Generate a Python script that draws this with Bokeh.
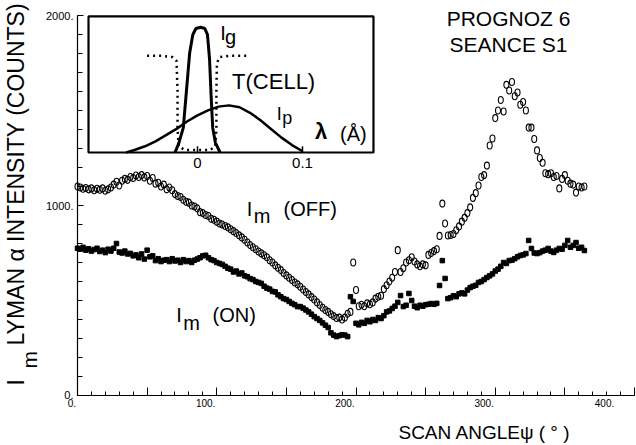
import math
from bokeh.plotting import figure
from bokeh.models import Range1d, FixedTicker, Label, ColumnDataSource, LinearAxis
from bokeh.embed import file_html
from bokeh.resources import INLINE

# ---------------- data ----------------
scan_angle = list(range(0, 366, 2))

intensity_off = [
    1100, 1095, 1088, 1092, 1085, 1090, 1080, 1088, 1083, 1090,   # 0-18
    1078, 1085, 1095, 1110, 1125, 1105, 1130, 1140, 1135, 1150,   # 20-38
    1145, 1158, 1150, 1160, 1148, 1155, 1130, 1145, 1115, 1120,   # 40-58
    1100, 1110, 1085, 1095, 1080, 1060, 1050, 1045, 1030, 1020,   # 60-78
    1015, 1000, 995, 985, 965, 960, 950, 945, 930, 925,           # 80-98
    915, 905, 900, 892, 885, 875, 865, 855, 843, 832,             # 100-118
    820, 805, 792, 780, 770, 758, 748, 738, 728, 712,             # 120-138
    700, 685, 672, 660, 645, 632, 620, 608, 595, 585,             # 140-158
    572, 558, 545, 532, 518, 505, 490, 476, 462, 450,             # 160-178
    440, 428, 418, 408, 410, 400, 410, 430, 440, 700,             # 180-198
    555, 470, 478, 470, 485, 480, 490, 510, 520, 525,             # 200-218
    560, 580, 600, 620, 650, 765, 650, 670, 700, 712,             # 220-238
    728, 705, 690, 680, 690, 685, 740, 750, 760, 770,             # 240-258
    840, 1010, 905, 842, 845, 850, 870, 890, 915, 935,            # 260-278
    960, 990, 1040, 1065, 1105, 1150, 1160, 1210, 1316, 1353,     # 280-298
    1460, 1500, 1555, 1495, 1635, 1605, 1650, 1575, 1595, 1530,   # 300-318
    1545, 1500, 1410, 1410, 1350, 1290, 1250, 1225, 1170, 1165,   # 320-338
    1170, 1150, 1155, 1090, 1140, 1160, 1130, 1115, 1110, 1068,   # 340-358
    1100, 1095, 1100,                                             # 360-364
]

intensity_on = [
    775, 770, 780, 765, 772, 760, 768, 775, 758, 765,   # 0-18
    752, 770, 760, 775, 800, 755, 750, 760, 745, 748,   # 20-38
    735, 740, 725, 745, 718, 765, 730, 735, 710, 720,   # 40-58
    705, 712, 715, 705, 720, 708, 712, 700, 715, 705,   # 60-78
    710, 700, 712, 718, 725, 735, 738, 725, 715, 710,   # 80-98
    700, 695, 690, 680, 670, 665, 650, 655, 640, 645,   # 100-118
    630, 625, 615, 610, 600, 595, 590, 575, 565, 560,   # 120-138
    548, 545, 530, 520, 510, 505, 495, 485, 478, 468,   # 140-158
    468, 460, 450, 440, 428, 415, 405, 395, 382, 370,   # 160-178
    358, 330, 318, 310, 315, 320, 318, 310, 520, 495,   # 180-198
    380, 372, 385, 380, 395, 388, 400, 395, 410, 405,   # 200-218
    420, 440, 445, 458, 470, 490, 526, 468, 475, 537,   # 220-238
    500, 470, 462, 475, 470, 478, 480, 484, 480, 485,   # 240-258
    579, 710, 616, 510, 515, 525, 520, 535, 540, 535,   # 260-278
    555, 568, 575, 580, 595, 600, 610, 621, 630, 640,   # 280-298
    655, 665, 680, 700, 695, 710, 712, 720, 730, 737,   # 300-318
    740, 747, 816, 774, 750, 747, 752, 760, 765, 774,   # 320-338
    760, 753, 765, 774, 770, 790, 816, 780, 790, 805,   # 340-358
    775, 780, 763,                                      # 360-364
]

# inset: spectral profiles versus wavelength offset (Angstrom), peak of I_g = 1
ig_lambda = [-0.0215, -0.018, -0.0135, -0.0105, -0.0075, -0.0045, -0.0015, 0.003,
             0.007, 0.0095, 0.0115, 0.013, 0.0145, 0.017, 0.0215]
ig_level = [0.0, 0.07, 0.2, 0.5, 0.8, 0.95, 1.0, 1.01, 1.0, 0.95, 0.75, 0.45, 0.2, 0.08, 0.0]

tcell_lambda = [-0.048, -0.035, -0.024, -0.020, -0.019, -0.019, -0.018, -0.012,
                0.012, 0.017, 0.018, 0.018, 0.0185, 0.021, 0.030, 0.048]
tcell_level = [0.78, 0.78, 0.77, 0.74, 0.5, 0.2, 0.05, 0.02,
               0.02, 0.05, 0.2, 0.5, 0.72, 0.77, 0.78, 0.78]

ip_lambda = [-0.068, -0.06, -0.05, -0.04, -0.03, -0.02, -0.01, 0.0, 0.01,
             0.02, 0.03, 0.04, 0.05, 0.06, 0.07, 0.08, 0.09, 0.10]
ip_level = [0.0, 0.02, 0.05, 0.09, 0.14, 0.19, 0.25, 0.30, 0.34,
            0.37, 0.38, 0.365, 0.32, 0.26, 0.19, 0.12, 0.06, 0.01]

inset_ticks = [0.0, 0.1]
inset_tick_labels = ["0", "0.1"]

NB = "\u00a0"
x_major = [0, 50, 100, 150, 200, 250, 300, 350, 400]
x_labels = {0: "0." + NB * 4, 50: "", 100: "100." + NB * 8, 150: "", 200: "200." + NB * 8,
            250: "", 300: "300." + NB * 8, 350: "", 400: "400." + NB * 8}
y_major = [0, 1000, 2000]
y_labels = {0: "0.", 1000: "1000.", 2000: "2000."}

FONT = "Liberation Sans"

# ---------------- figure (frame = whole canvas, axes fixed at x=0 / y=0) ----------------
p = figure(width=636, height=445, output_backend="svg", toolbar_location=None,
           x_range=Range1d(-55.296, 401.436), y_range=Range1d(-263.16, 2078.95),
           x_axis_location=None, y_axis_location=None, min_border=0)
p.outline_line_color = None
p.grid.visible = False
p.background_fill_color = "white"
p.border_fill_color = "white"

# inset scales (wavelength and normalised level) sharing the frame
p.extra_x_ranges = {"lam": Range1d(-0.18762, 0.41810)}
p.extra_y_ranges = {"lev": Range1d(-2.3629, 1.22581)}

xa = LinearAxis(fixed_location=0, bounds=(0, 400))
ya = LinearAxis(fixed_location=0, bounds=(0, 2000))
p.add_layout(xa, "below")
p.add_layout(ya, "left")

for ax in (xa, ya):
    ax.axis_line_color = "black"
    ax.axis_line_width = 1.2
    ax.major_tick_line_color = "black"
    ax.minor_tick_line_color = "black"
    ax.major_tick_out = 0
    ax.minor_tick_out = 0
    ax.major_label_text_font = FONT
    ax.major_label_text_color = "black"

xa.ticker = FixedTicker(ticks=x_major, minor_ticks=list(range(0, 401, 10)))
xa.major_label_overrides = x_labels
xa.major_label_text_font_size = "10px"
xa.major_tick_in = 8
xa.minor_tick_in = 4
xa.major_label_standoff = 3

ya.ticker = FixedTicker(ticks=y_major, minor_ticks=list(range(0, 2001, 100)))
ya.major_label_overrides = y_labels
ya.major_label_text_font_size = "11px"
ya.major_tick_in = 6
ya.minor_tick_in = 5
ya.major_label_standoff = 4

# ---------------- main data ----------------
src_off = ColumnDataSource(dict(x=scan_angle, y=intensity_off))
src_on = ColumnDataSource(dict(x=scan_angle, y=intensity_on))
p.ellipse(x="x", y="y", width=5, height=7, width_units="screen", height_units="screen",
          source=src_off, fill_alpha=0, line_color="black", line_width=1.1)
p.scatter(x="x", y="y", source=src_on, marker="square", size=4.5, color="black")

# ---------------- inset ----------------
p.quad(left=-0.1038, right=0.1676, bottom=0.0, top=1.097, x_range_name="lam", y_range_name="lev",
       fill_color="white", line_color="black", line_width=2.2)
p.line(tcell_lambda, tcell_level, x_range_name="lam", y_range_name="lev",
       line_color="black", line_width=2.5, line_dash="2 4")
p.line(ig_lambda, ig_level, x_range_name="lam", y_range_name="lev",
       line_color="black", line_width=3)
p.line(ip_lambda, ip_level, x_range_name="lam", y_range_name="lev",
       line_color="black", line_width=2.5)
p.segment(x0=inset_ticks, y0=[0, 0], x1=inset_ticks, y1=[0.05, 0.05],
          x_range_name="lam", y_range_name="lev", line_color="black", line_width=1.5)
for t, lab in zip(inset_ticks, inset_tick_labels):
    p.add_layout(Label(x=t, y=-0.081, text=lab, x_range_name="lam", y_range_name="lev",
                       text_align="center", text_baseline="middle",
                       text_font=FONT, text_font_size="15px", text_color="black"))


def txt(x, y, s, size, align="left", angle=0.0, style="normal"):
    p.add_layout(Label(x=x, y=y, text=s, text_align=align, text_baseline="middle",
                       angle=angle, text_font=FONT, text_font_size=size,
                       text_font_style=style, text_color="black"))


# inset annotations (main data coordinates, y = vertical centre of the text)
txt(102.5, 1908, "I", "20px")
txt(106.0, 1889, "g", "20px")
txt(111.0, 1655, "T(CELL)", "22px")
txt(143.0, 1482, "I", "18px")
txt(147.0, 1459, "p", "18px")
txt(170.5, 1389, "λ", "22px", style="bold")
txt(188.5, 1374, "(Å)", "20px")

# titles
txt(309.5, 1984, "PROGNOZ 6", "21px", align="center")
txt(309.5, 1847, "SEANCE S1", "21px", align="center")

# series labels
txt(121.5, 982, "I", "20px")
txt(126.5, 947, "m", "20px")
txt(148.0, 982, "(OFF)", "20px")
txt(71.0, 426, "I", "20px")
txt(76.0, 379, "m", "20px")
txt(97.0, 424, "(ON)", "20px")

# axis titles
txt(230.5, -197, "SCAN ANGLEψ ( ° )", "19px")
txt(-44.5, 52, "I", "23px", angle=math.pi / 2)
txt(-34.8, 142, "m", "21px", angle=math.pi / 2)
txt(-44.5, 263, "LYMAN α INTENSITY (COUNTS)", "23px", angle=math.pi / 2)

open("out.html", "w").write(file_html(p, INLINE))
